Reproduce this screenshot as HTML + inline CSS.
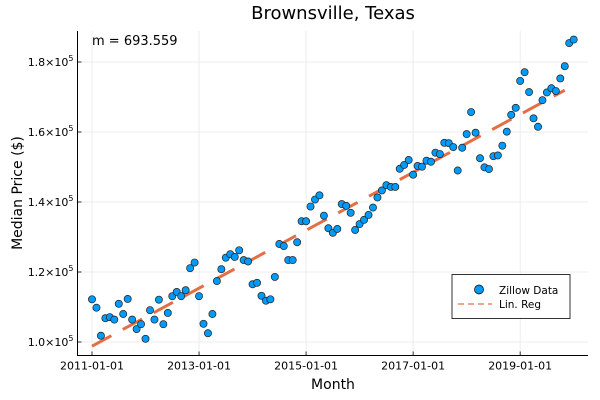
<!DOCTYPE html>
<html><head><meta charset="utf-8"><style>
html,body{margin:0;padding:0;background:#fff;}
svg{display:block;font-family:"DejaVu Sans","Liberation Sans",sans-serif;}
</style></head><body>
<svg id="chart" width="600" height="400" viewBox="0 0 600 400">
<rect width="600" height="400" fill="#fff"/>
<g id="grid"></g>
<g id="axes"></g>
<g id="reg"></g>
<g id="pts"></g>
<text x="333" y="19" text-anchor="middle" font-size="18" fill="#000">Brownsville, Texas</text>
<text x="92" y="45" font-size="13" fill="#000">m = 693.559</text>
<text x="333" y="389" text-anchor="middle" font-size="14">Month</text>
<text transform="translate(22,193) rotate(-90)" text-anchor="middle" font-size="14">Median Price ($)</text>
<g>
<rect x="452" y="274.5" width="118" height="44" fill="#fff" stroke="#000" stroke-width="0.8"/>
<circle cx="479" cy="289.5" r="4.5" fill="#009af9" stroke="#000" stroke-width="0.7"/>
<text x="499" y="294" font-size="10.5">Zillow Data</text>
<line x1="458" y1="304" x2="492" y2="304" stroke="#e26f46" stroke-width="1.2" stroke-dasharray="6,4"/>
<text x="499" y="308" font-size="10.5">Lin. Reg</text>
</g>
</svg>
<script>
const prices = [112.2,109.8,101.8,106.8,107.1,106.4,110.9,108,112.3,106.4,103.7,105.1,100.9,109.1,106.4,112.1,105.1,108.3,113.1,114.3,113.1,114.8,121.1,122.7,113.1,105.2,102.5,108,117.4,120.8,124.1,125.1,124.3,126.2,123.4,123,116.5,116.9,113.2,111.8,112.2,118.6,128,127.4,123.4,123.4,128.5,134.5,134.5,138.7,140.7,141.9,136.1,132.5,131.2,132.3,139.4,138.9,136.9,132,133.7,134.9,136.3,138.4,141.3,143.3,144.8,144.3,144.3,149.5,150.6,152,147.8,150.3,150.1,151.8,151.5,154.1,153.7,156.9,156.8,155.7,149,155.5,159.4,165.7,159.8,152.5,149.9,149.4,153.1,153.3,156.1,160.1,164.9,166.9,174.6,177.1,171.4,163.9,161.5,169.1,171.3,172.5,171.7,175.3,178.8,185.4,186.4];
const yTicks = [100,120,140,160,180];
const yTickLabels = ["1.0","1.2","1.4","1.6","1.8"];
const xTickMonths = [0,24,48,72,96];
const xTickLabels = ["2011-01-01","2013-01-01","2015-01-01","2017-01-01","2019-01-01"];
const regEndMonth = 106;

const NS="http://www.w3.org/2000/svg";
const X0=92, XPM=4.46, Y0=342, YPK=3.5;
const L=77.5, R=588, T=31, B=355.5;
function xs(m){return X0+m*XPM;}
function ys(v){return Y0-(v-100)*YPK;}
function mk(tag,attrs,parent){const e=document.createElementNS(NS,tag);for(const k in attrs)e.setAttribute(k,attrs[k]);parent.appendChild(e);return e;}
const grid=document.getElementById('grid'), axes=document.getElementById('axes');
yTicks.forEach((v,i)=>{
  const gl=mk('line',{x1:L,x2:R,y1:ys(v),y2:ys(v),stroke:'#e8e8e8','stroke-width':0.8},grid);
  
  
  const tk=mk('line',{x1:L,x2:L+4,y1:ys(v),y2:ys(v),stroke:'#000','stroke-width':0.8},axes);
  
  
  const t=mk('text',{x:L-4,y:ys(v)+4,'text-anchor':'end','font-size':11},axes);
  
  
  t.textContent=yTickLabels[i]+"×10";
  const s=mk('tspan',{dy:-5,'font-size':8},t);s.textContent="5";
});
xTickMonths.forEach((m,i)=>{
  const gl=mk('line',{x1:xs(m),x2:xs(m),y1:T,y2:B,stroke:'#e8e8e8','stroke-width':0.8},grid);
  
  
  const tk=mk('line',{x1:xs(m),x2:xs(m),y1:B,y2:B-4,stroke:'#000','stroke-width':0.8},axes);
  
  
  const t=mk('text',{x:xs(m),y:B+14,'text-anchor':'middle','font-size':11},axes);
  
  
  t.textContent=xTickLabels[i];
});
const ax=mk('path',{d:`M${L},${T}V${B}H${R}`,fill:'none',stroke:'#000','stroke-width':1},axes);


const n=prices.length;let sx=0,sy=0,sxx=0,sxy=0;
prices.forEach((v,i)=>{sx+=i;sy+=v;sxx+=i*i;sxy+=i*v;});
const slope=(n*sxy-sx*sy)/(n*sxx-sx*sx), icpt=(sy-slope*sx)/n;
const rl=mk('line',{x1:xs(0),y1:ys(icpt),x2:xs(regEndMonth),y2:ys(icpt+slope*regEndMonth),stroke:'#e26f46','stroke-width':3,'stroke-dasharray':'22,13'},document.getElementById('reg'));


const pts=document.getElementById('pts');
prices.forEach((v,i)=>{
  const c=mk('circle',{cx:xs(i),cy:ys(v),r:3.6,fill:'#009af9',stroke:'#222','stroke-width':0.7},pts);
  
  
});
</script>
</body></html>
